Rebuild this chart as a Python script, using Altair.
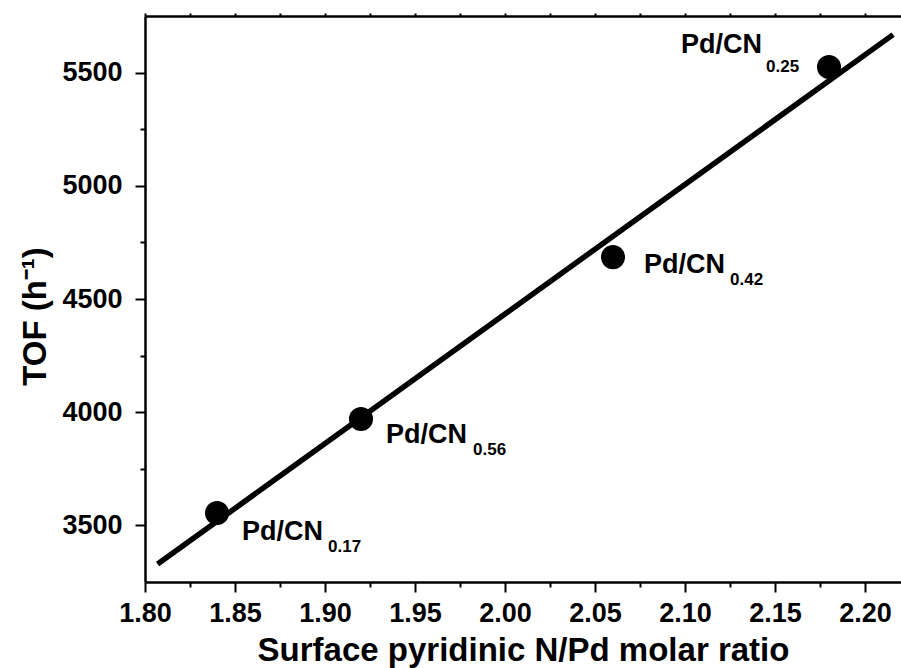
import altair as alt
import pandas as pd

# Catalyst series: surface pyridinic N/Pd ratio vs turnover frequency
ratio = [1.84, 1.92, 2.06, 2.18]
tof = [3555, 3970, 4685, 5525]
catalyst = ["Pd/CN", "Pd/CN", "Pd/CN", "Pd/CN"]
subscript = ["0.17", "0.56", "0.42", "0.25"]

# Axis tick values
x_major = [1.80, 1.85, 1.90, 1.95, 2.00, 2.05, 2.10, 2.15, 2.20]
x_minor = [1.825, 1.875, 1.925, 1.975, 2.025, 2.075, 2.125, 2.175]
y_major = [3500, 4000, 4500, 5000, 5500]
y_minor = [3750, 4250, 4750, 5250]

FONT = "Liberation Sans"

df = pd.DataFrame({"ratio": ratio, "tof": tof, "catalyst": catalyst, "sub": subscript})

xs = alt.Scale(domain=[1.80, 2.22], nice=False, zero=False)
ys = alt.Scale(domain=[3250, 5750], nice=False, zero=False)

base = alt.Chart(df)

# Least-squares fit line with the main axes
fit = base.transform_regression(
    "ratio", "tof", extent=[1.807, 2.2156]
).mark_line(color="black", strokeWidth=5.5).encode(
    x=alt.X("ratio:Q", scale=xs, axis=alt.Axis(
        orient="bottom", values=x_major, format=".2f",
        title="Surface pyridinic N/Pd molar ratio",
        tickSize=10, labelPadding=8, labelFontSize=27, labelFlush=False,
        labelOverlap=False,
        titleFontSize=33, titleY=78, titleBaseline="alphabetic",
    )),
    y=alt.Y("tof:Q", scale=ys, axis=alt.Axis(
        orient="left", values=y_major, format="d",
        title="TOF (h⁻¹)",
        tickSize=10, labelPadding=13, labelFontSize=27, labelFlush=False,
        labelOverlap=False,
        titleFontSize=33, titleX=-100, titleY=300,
        titleAlign="center", titleBaseline="alphabetic",
    )),
)

points = base.mark_circle(size=580, color="black", opacity=1).encode(
    x=alt.X("ratio:Q", scale=xs, axis=None),
    y=alt.Y("tof:Q", scale=ys, axis=None),
)

# Minor ticks on the bottom axis
x_minor_axis = base.mark_point(opacity=0).encode(
    x=alt.X("ratio:Q", scale=xs, title=None, axis=alt.Axis(
        orient="bottom", values=x_minor, tickSize=5, labels=False, domain=False,
    )),
    y=alt.Y("tof:Q", scale=ys, axis=None),
)

# Minor ticks on the left axis
y_minor_axis = base.mark_point(opacity=0).encode(
    x=alt.X("ratio:Q", scale=xs, axis=None),
    y=alt.Y("tof:Q", scale=ys, title=None, axis=alt.Axis(
        orient="left", values=y_minor, tickSize=5, labels=False, domain=False,
    )),
)

# Top frame line with small ticks
top_axis = base.mark_point(opacity=0).encode(
    x=alt.X("ratio:Q", scale=xs, title=None, axis=alt.Axis(
        orient="top", values=x_major + x_minor, tickSize=3, labels=False, domain=True,
    )),
    y=alt.Y("tof:Q", scale=ys, axis=None),
)

# Label offsets (main text, subscript) in pixels from each point
label_offsets = {
    "0.17": ((25, 27), (111, 39)),
    "0.56": ((25, 24), (112, 36)),
    "0.42": ((31, 16), (117, 28)),
    "0.25": ((-148, -14), (-63, 5)),
}

labels = []
for s, ((mdx, mdy), (sdx, sdy)) in label_offsets.items():
    sel = base.transform_filter(alt.datum.sub == s)
    enc = dict(
        x=alt.X("ratio:Q", scale=xs, axis=None),
        y=alt.Y("tof:Q", scale=ys, axis=None),
    )
    labels.append(sel.mark_text(
        align="left", baseline="alphabetic", dx=mdx, dy=mdy,
        font=FONT, fontSize=27, fontWeight="bold", color="black",
    ).encode(text="catalyst:N", **enc))
    labels.append(sel.mark_text(
        align="left", baseline="alphabetic", dx=sdx, dy=sdy,
        font=FONT, fontSize=17, fontWeight="bold", color="black",
    ).encode(text="sub:N", **enc))

chart = alt.layer(
    x_minor_axis, y_minor_axis, top_axis, fit, points, *labels
).resolve_axis(
    x="independent", y="independent"
).properties(
    width=756, height=566,
    autosize=alt.AutoSizeParams(type="none"),
    padding={"left": 145, "top": 16, "right": 0, "bottom": 86},
    background="white",
).configure_view(
    strokeWidth=0
).configure_axis(
    grid=False,
    labelFont=FONT, titleFont=FONT,
    labelFontWeight="bold", titleFontWeight="bold",
    labelColor="black", titleColor="black",
    domainColor="black", tickColor="black",
    domainWidth=2.5, tickWidth=2,
)

chart.save("out.html", embed_options={"renderer": "svg", "actions": False})
